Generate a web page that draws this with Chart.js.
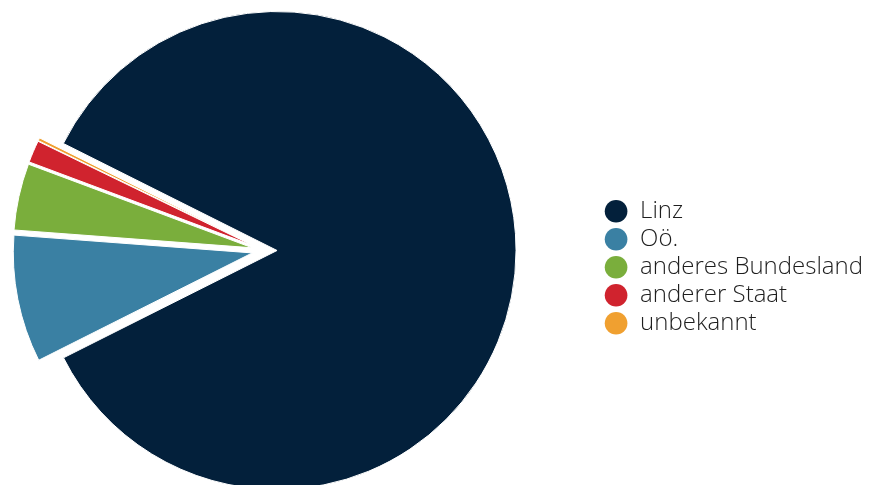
<!DOCTYPE html>
<html>
<head>
<meta charset="utf-8">
<script src="https://cdn.jsdelivr.net/npm/chart.js@4.4.1/dist/chart.umd.min.js"></script>
<style>
  html, body { margin: 0; padding: 0; background: #ffffff; overflow: hidden; width: 874px; height: 485px; }
  #wrap { position: absolute; left: -71px; top: 0; width: 944px; height: 485px; }
</style>
</head>
<body>
<div id="wrap"><canvas id="c" width="944" height="485"></canvas></div>
<script>
const categories = ["Linz", "Oö.", "anderes Bundesland", "anderer Staat", "unbekannt"];
const values = [85.2, 8.6, 4.5, 1.5, 0.2];
const colors = ["#03203b", "#3a80a3", "#7aae3c", "#d0232e", "#f0a030"];

const baseGen = Chart.overrides.pie.plugins.legend.labels.generateLabels;

// every slice is pulled out from the centre along its own mid-angle
const explode = {
  id: 'explode',
  beforeDatasetDraw(chart, args, opts) {
    const ctx = chart.ctx;
    const d = opts.distance || 0;
    args.meta.data.forEach(function(arc) {
      const mid = (arc.startAngle + arc.endAngle) / 2;
      ctx.save();
      ctx.translate(Math.cos(mid) * d, Math.sin(mid) * d);
      arc.draw(ctx, chart.chartArea);
      ctx.restore();
    });
    return false;
  }
};

new Chart(document.getElementById('c'), {
  type: 'pie',
  data: {
    labels: categories,
    datasets: [{
      data: values,
      backgroundColor: colors,
      borderColor: '#ffffff',
      borderWidth: 1,
      hoverOffset: 0
    }]
  },
  plugins: [explode],
  options: {
    responsive: false,
    devicePixelRatio: 1,
    animation: false,
    events: [],
    rotation: -63.4,
    radius: 239,
    layout: { padding: { left: 0, right: 0, top: 16, bottom: 0 } },
    plugins: {
      explode: { distance: 12.5 },
      tooltip: { enabled: false },
      legend: {
        position: 'right',
        title: { display: true, text: '', font: { size: 12 }, padding: { top: 19, bottom: 0 } },
        labels: {
          usePointStyle: true,
          pointStyle: 'circle',
          boxWidth: 24,
          boxHeight: 16,
          padding: 4,
          color: '#1e1e1e',
          font: { family: '"Open Sans"', size: 24, weight: '300' },
          generateLabels: function(chart) {
            return baseGen(chart).map(function(it) {
              it.lineWidth = 0;
              it.strokeStyle = it.fillStyle;
              return it;
            });
          }
        }
      }
    }
  }
});
</script>
</body>
</html>
